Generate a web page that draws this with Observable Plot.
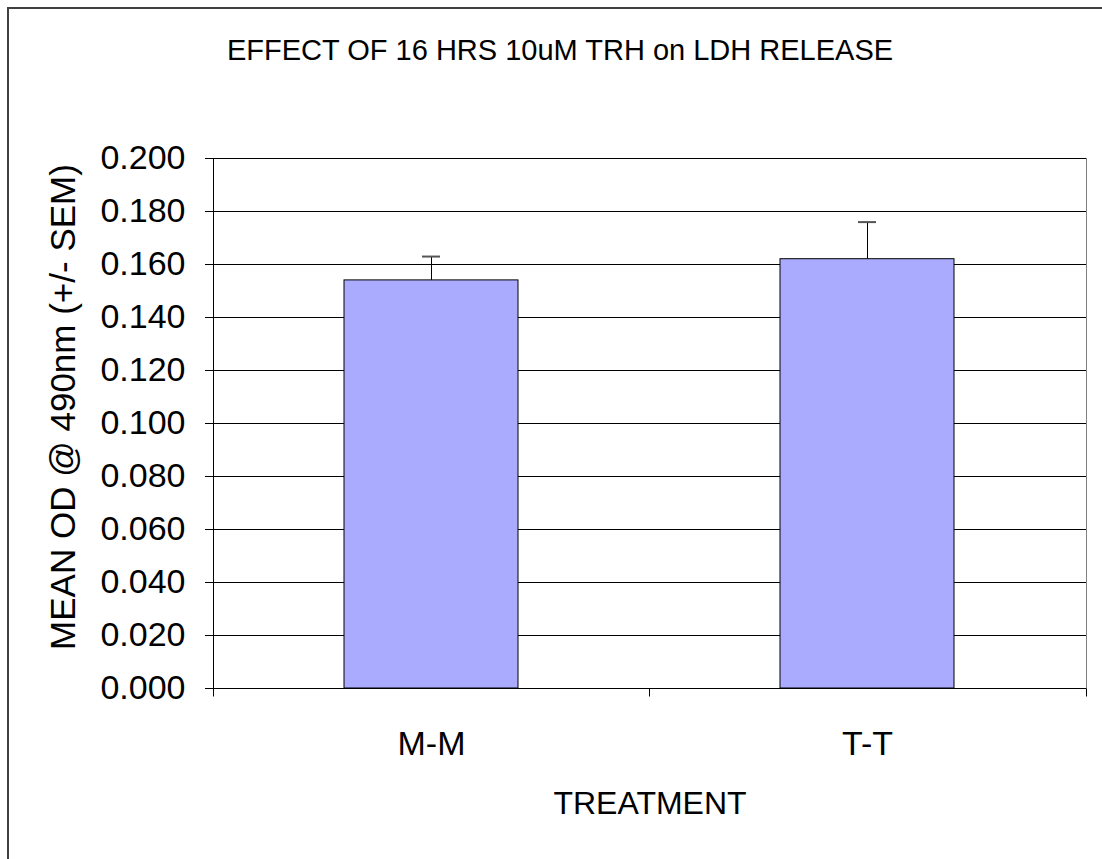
<!DOCTYPE html>
<html>
<head>
<meta charset="utf-8">
<script src="https://cdn.jsdelivr.net/npm/d3@7"></script>
<script src="https://cdn.jsdelivr.net/npm/@observablehq/plot@0.6"></script>
<style>
html, body { margin: 0; padding: 0; background: #fff; }
#wrap { position: relative; width: 1102px; height: 859px; overflow: hidden; }
#wrap svg { display: block; }
#border { position: absolute; left: 7px; top: 7px; width: 1200px; height: 1000px;
  border-left: 2px solid #404040; border-top: 2px solid #404040; pointer-events: none; }
</style>
</head>
<body>
<div id="wrap"><div id="border"></div></div>
<script>
const title = "EFFECT OF 16 HRS 10uM TRH on LDH RELEASE";
const xLabel = "TREATMENT";
const yLabel = "MEAN OD @ 490nm (+/- SEM)";
const categories = ["M-M", "T-T"];
const means = [0.154, 0.162];
const sems = [0.009, 0.014];
const yTicks = [0, 0.02, 0.04, 0.06, 0.08, 0.1, 0.12, 0.14, 0.16, 0.18, 0.2];

const data = categories.map((c, i) => ({treatment: c, mean: means[i], sem: sems[i]}));

// draws the y axis line and the category-boundary ticks under the x axis
function axisLines(index, scales, values, dimensions) {
  const x = scales.x, y = scales.y;
  const bw = typeof x.bandwidth === "function" ? x.bandwidth() : (x.bandwidth || 0);
  const centers = categories.map(c => x(c) + bw / 2);
  const left = dimensions.marginLeft;
  const right = dimensions.width - dimensions.marginRight;
  const bounds = [left];
  for (let i = 1; i < centers.length; i++) bounds.push((centers[i - 1] + centers[i]) / 2);
  bounds.push(right);
  const y0 = Math.round(y(0)) + 0.5;
  const yTop = Math.round(y(yTicks[yTicks.length - 1])) + 0.5;
  const g = d3.create("svg:g").attr("stroke", "#000").attr("stroke-width", 1);
  g.append("line").attr("x1", left + 0.5).attr("x2", left + 0.5).attr("y1", yTop).attr("y2", y0);
  g.append("line").attr("x1", left - 8).attr("x2", right).attr("y1", y0).attr("y2", y0);
  g.selectAll("line.b").data(bounds).join("line").attr("class", "b")
    .attr("x1", d => Math.round(d) + 0.5).attr("x2", d => Math.round(d) + 0.5)
    .attr("y1", y0).attr("y2", y0 + 8);
  return g.node();
}

// rotated y-axis title, placed left of the tick labels
function yTitle(index, scales, values, dimensions) {
  const cx = dimensions.marginLeft - 150;
  const cy = (dimensions.marginTop + dimensions.height - dimensions.marginBottom) / 2 - 16;
  const t = d3.create("svg:text")
    .attr("transform", `translate(${cx},${cy}) rotate(-90)`)
    .attr("text-anchor", "middle")
    .attr("dy", "0.35em")
    .attr("font-size", 35)
    .attr("fill", "#000")
    .text(yLabel);
  return t.node();
}

const plot = Plot.plot({
  width: 1102,
  height: 859,
  marginLeft: 213,
  marginRight: 16,
  marginTop: 158,
  marginBottom: 171,
  style: {fontFamily: "'Liberation Sans', Arial, sans-serif", fontSize: "34px", color: "#000", background: "transparent", overflow: "visible"},
  x: {domain: categories, paddingInner: 0.6, paddingOuter: 0.3, label: null, tickSize: 0, tickPadding: 42},
  y: {domain: [0, 0.2], ticks: yTicks, tickFormat: d3.format(".3f"), tickSize: 8, tickPadding: 20, label: null},
  marks: [
    Plot.frame({stroke: "#808080"}),
    Plot.ruleY(yTicks, {stroke: "#000", strokeWidth: 1}),
    Plot.barY(data, {x: "treatment", y: "mean", fill: "#aaaaff", stroke: "#000", strokeWidth: 1}),
    Plot.ruleX(data, {x: "treatment", y1: "mean", y2: d => d.mean + d.sem, stroke: "#000", strokeWidth: 1}),
    Plot.tickY(data, {x: "treatment", y: d => d.mean + d.sem, stroke: "#555", strokeWidth: 2, insetLeft: 78, insetRight: 78}),
    axisLines,
    yTitle,
    Plot.text([title], {frameAnchor: "top", dx: -90, dy: -99, lineAnchor: "bottom", fontSize: 29, fill: "#000"}),
    Plot.text([xLabel], {frameAnchor: "bottom", dy: 125, lineAnchor: "bottom", fontSize: 32, fill: "#000"})
  ]
});
document.getElementById("wrap").insertBefore(plot, document.getElementById("border"));
</script>
</body>
</html>
